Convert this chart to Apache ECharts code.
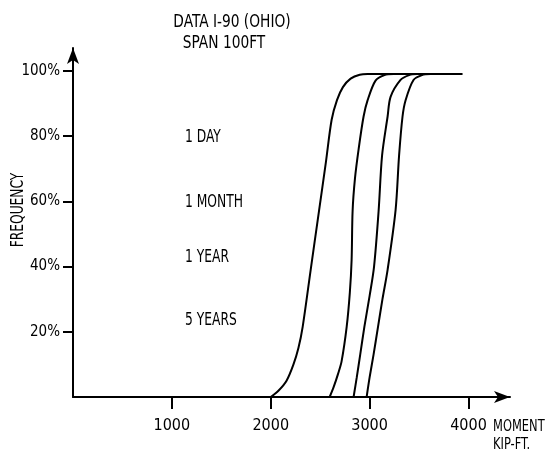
<!DOCTYPE html>
<html>
<head>
<meta charset="utf-8">
<script src="https://cdn.jsdelivr.net/npm/echarts@6/dist/echarts.min.js"></script>
<style>html,body{margin:0;padding:0;background:#fff}#c{width:550px;height:450px}</style>
</head>
<body>
<div id="c"></div>
<script>
// ---- data ----
const xTickValues = [1000, 2000, 3000, 4000];
const yTickValues = [20, 40, 60, 80, 100];
const seriesNames = ['1 DAY', '1 MONTH', '1 YEAR', '5 YEARS'];
const oneDay = [[2000,0],[2080,2],[2160,5],[2230,10],[2280,15],[2323,21.5],[2404,39],[2488,57],[2558,72],[2616,85],[2670,91],[2730,95],[2808,97.6],[2900,98.8],[2980,99],[3940,99]];
const oneMonth = [[2596,0],[2636,3],[2680,7],[2717,11],[2768,21.5],[2800,32],[2818,42],[2828,57],[2852,67],[2889,76],[2939,86],[2980,91],[3060,97],[3150,98.7],[3242,99]];
const oneYear = [[2838,0],[2870,6],[2905,13],[2947,21.5],[3000,31],[3045,40],[3091,57],[3126,74],[3182,86],[3212,92],[3313,97.2],[3400,98.7],[3485,99]];
const fiveYears = [[2970,0],[3000,6],[3040,13],[3085,21.5],[3130,30],[3182,39],[3263,57.4],[3298,74],[3333,86],[3364,91],[3444,97.2],[3530,98.7],[3616,99]];
const titleLines = ['DATA I-90 (OHIO)', 'SPAN 100FT'];
const yAxisTitle = 'FREQUENCY';
const xAxisTitle = ['MOMENT', 'KIP-FT.'];

const FONT = "'DejaVu Sans Condensed','Liberation Sans Narrow',sans-serif";
const chart = echarts.init(document.getElementById('c'));
const lineSeries = [oneDay, oneMonth, oneYear, fiveYears].map((d, i) => ({
  name: seriesNames[i], type: 'line', data: d, showSymbol: false,
  smooth: 0.3,
  lineStyle: {color: '#000', width: 2}, silent: true
}));
function txt(text, x, y, size, sx, extra) {
  return Object.assign({type: 'text', x: x, y: y, scaleX: sx, style: {text: text, x: 0, y: 0, fill: '#000', font: size + 'px ' + FONT, verticalAlign: 'middle'}}, extra || {});
}
const titleA = txt(titleLines[0], 232, 22, 18, 0.85); titleA.style.align = 'center';
const titleB = txt(titleLines[1], 224, 43, 18, 0.85); titleB.style.align = 'center';
const yName = txt(yAxisTitle, 19, 210, 17, 0.8, {rotation: Math.PI / 2}); yName.style.align = 'center';
chart.setOption({
  animation: false,
  backgroundColor: '#fff',
  grid: {left: 73, right: 40, top: 48, bottom: 53},
  xAxis: {
    type: 'value', min: 0, max: 4420, interval: 1000,
    splitLine: {show: false},
    axisLine: {show: true, lineStyle: {color: '#000', width: 2}, symbol: ['none', 'arrow'], symbolSize: [9, 16]},
    axisTick: {show: true, length: 12, lineStyle: {color: '#000', width: 2}, customValues: xTickValues},
    axisLabel: {color: '#000', fontFamily: FONT, fontSize: 16, margin: 21, customValues: xTickValues, formatter: (v) => String(v)}
  },
  yAxis: {
    type: 'value', min: 0, max: 107, interval: 20,
    splitLine: {show: false},
    axisLine: {show: true, lineStyle: {color: '#000', width: 2}, symbol: ['none', 'arrow'], symbolSize: [9, 16]},
    axisTick: {show: true, length: 10, lineStyle: {color: '#000', width: 2}, customValues: yTickValues},
    axisLabel: {color: '#000', fontFamily: FONT, fontSize: 15, margin: 13, formatter: '{value}%', customValues: yTickValues}
  },
  series: lineSeries,
  graphic: [
    titleA, titleB, yName,
    txt(xAxisTitle[0], 493, 427, 15, 0.85),
    txt(xAxisTitle[1], 493, 445, 15, 0.85),
    txt(seriesNames[0], 185, 137, 18, 0.76),
    txt(seriesNames[1], 185, 202, 18, 0.76),
    txt(seriesNames[2], 185, 257, 18, 0.76),
    txt(seriesNames[3], 185, 320, 18, 0.76)
  ]
});
</script>
</body>
</html>
